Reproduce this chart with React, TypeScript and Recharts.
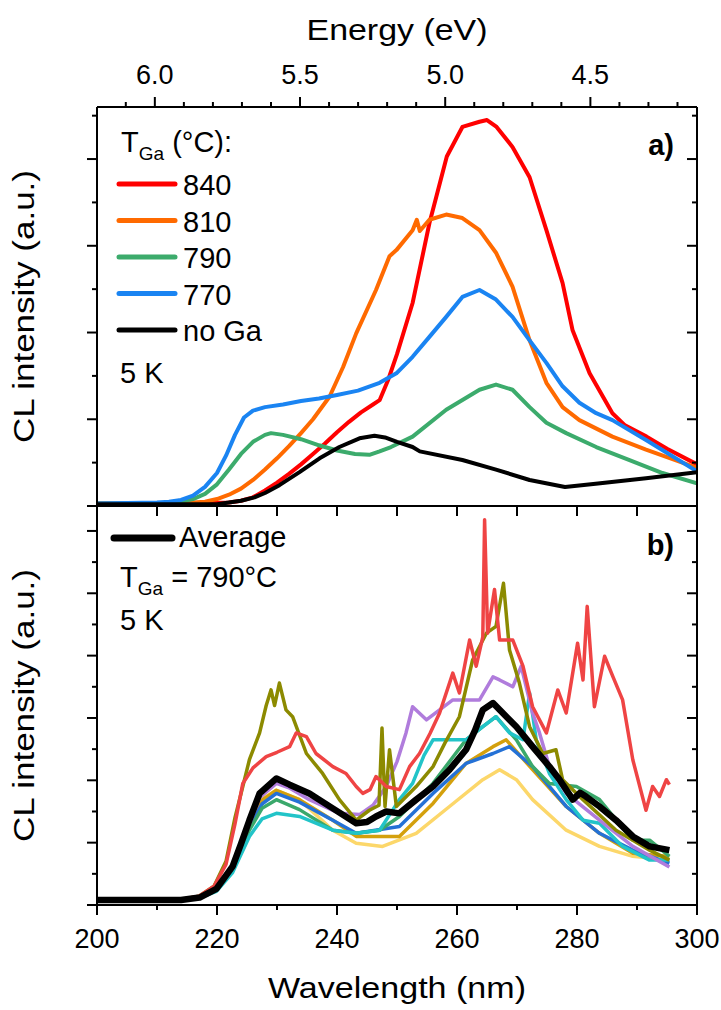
import React from "react";
import { LineChart, Line, XAxis, YAxis, Legend } from "recharts";

type Pt = [number, number];

// panel a: CL spectra for different Ga cell temperatures (wavelength nm, intensity a.u.)
const t840: Pt[] = [
  [200, 0.03], [215, 0.03], [222, 0.04], [224, 0.06], [226, 0.1], [228, 0.18], [230, 0.27], [232, 0.37],
  [234, 0.48], [236, 0.6], [238, 0.72], [240, 0.85], [242, 0.97], [244, 1.08], [246, 1.17], [247.1, 1.22],
  [248.5, 1.45], [250, 1.75], [252.6, 2.34], [255.4, 3.26], [258.3, 4.03], [260.9, 4.37], [263.75, 4.43],
  [265, 4.45], [266.6, 4.37], [269.25, 4.14], [272.1, 3.79], [274.9, 3.18], [277.6, 2.57], [279.25, 2.03],
  [282.1, 1.53], [285.9, 1.07], [288, 0.93], [291.6, 0.8], [295, 0.66], [300, 0.48],
];
const t810: Pt[] = [
  [200, 0.03], [214, 0.03], [216, 0.04], [218, 0.05], [220, 0.08], [222, 0.13], [224, 0.2], [226, 0.3],
  [228, 0.42], [230, 0.55], [232, 0.69], [234, 0.84], [236, 1.0], [238.75, 1.26], [241, 1.6], [243.2, 1.99],
  [246.5, 2.49], [248.75, 2.88], [249.9, 2.95], [252.6, 3.18], [253.3, 3.3], [253.8, 3.17], [255.4, 3.3],
  [258.2, 3.36], [260.9, 3.32], [263.75, 3.18], [266.5, 2.92], [269.25, 2.53], [272.1, 1.91], [274.9, 1.42],
  [277.6, 1.14], [280.4, 0.99], [285.9, 0.8], [291.5, 0.65], [300, 0.44],
];
const t790: Pt[] = [
  [200, 0.03], [212, 0.03], [214, 0.05], [216, 0.08], [218, 0.14], [220, 0.25], [222, 0.42], [224, 0.6],
  [226, 0.74], [228, 0.82], [229, 0.84], [231, 0.82], [234, 0.77], [237, 0.7], [240, 0.64], [243, 0.6],
  [245.4, 0.59], [247.1, 0.63], [249, 0.68], [252.6, 0.8], [258.2, 1.11], [263.75, 1.34], [266.5, 1.4],
  [269.25, 1.34], [272.1, 1.14], [274.9, 0.96], [278.2, 0.84], [283.2, 0.68], [288.75, 0.53], [294.25, 0.38],
  [300, 0.26],
];
const t770: Pt[] = [
  [200, 0.03], [210, 0.04], [212, 0.05], [214, 0.07], [216, 0.12], [218, 0.22], [220, 0.38], [221.5, 0.58],
  [223, 0.82], [224.5, 1.02], [226, 1.1], [228, 1.14], [231, 1.17], [234, 1.21], [237, 1.24], [240, 1.28],
  [243.5, 1.33], [247.1, 1.42], [249.9, 1.53], [252.6, 1.72], [255.4, 1.95], [258.2, 2.18], [260.9, 2.41],
  [263.75, 2.49], [266.5, 2.38], [269.25, 2.18], [272.1, 1.91], [274.9, 1.65], [277.6, 1.38], [280.4, 1.19],
  [283.2, 1.07], [285.9, 0.99], [291.5, 0.76], [300, 0.4],
];
const noGa: Pt[] = [
  [200, 0.02], [220, 0.02], [222, 0.04], [224, 0.06], [226.25, 0.1], [228, 0.15], [230.4, 0.24], [233.75, 0.39],
  [237.1, 0.55], [240.4, 0.68], [243.75, 0.78], [246.25, 0.81], [248, 0.79], [250, 0.74], [252.6, 0.68],
  [253.8, 0.63], [260.9, 0.53], [266.5, 0.42], [272.1, 0.3], [278, 0.22], [283.5, 0.26], [291.5, 0.32], [300, 0.39],
];

// panel b: single spectra at T_Ga = 790 °C and their average
const specRed: Pt[] = [
  [200, 0.08], [214, 0.09], [217, 0.14], [219.5, 0.3], [221.5, 0.65], [223, 1.3], [224.3, 1.95], [226, 2.2],
  [228.2, 2.38], [230, 2.45], [232.1, 2.54], [233.2, 2.76], [234.9, 2.7], [236.5, 2.43], [239.3, 2.22],
  [241.5, 2.11], [243.2, 1.9], [244.3, 1.79], [245.5, 1.85], [246.5, 2.06], [248.2, 1.9], [250.4, 1.85],
  [252.1, 2.22], [253.75, 2.43], [255.5, 2.75], [257.1, 3.08], [259.3, 3.72], [260.4, 3.4], [262.1, 4.25],
  [263.2, 3.83], [264.3, 4.3], [264.6, 6.18], [265.1, 4.36], [266.25, 5.06], [267.1, 4.25], [269.3, 4.25],
  [271, 3.83], [272.6, 3.18], [274.9, 2.76], [276.8, 3.45], [278.2, 3.08], [280.1, 4.2], [281, 3.61],
  [281.7, 4.79], [282.9, 3.18], [284.6, 3.99], [286, 3.66], [287.6, 3.29], [289.3, 2.33], [291.5, 1.52],
  [292.6, 1.9], [293.75, 1.74], [294.9, 2.01], [295.4, 1.93],
];
const specOlive: Pt[] = [
  [200, 0.08], [214, 0.09], [217, 0.14], [219.5, 0.3], [221.5, 0.7], [223, 1.4], [224.3, 1.9], [225.4, 2.33],
  [227.1, 2.76], [228.2, 3.2], [229, 3.45], [229.6, 3.2], [230.4, 3.56], [231.5, 3.13], [232.6, 3.02],
  [234.9, 2.43], [237.6, 2.11], [240.4, 1.69], [243.2, 1.36], [245.4, 1.52], [247, 1.6], [247.5, 2.84],
  [248, 1.58], [248.75, 2.49], [249.9, 1.58], [253.2, 1.9], [256, 2.22], [258, 2.6], [260.4, 3.02],
  [262.6, 3.93], [264.9, 4.36], [266.5, 4.47], [267.75, 5.16], [268.75, 4.09], [270.4, 3.56], [272.1, 2.86],
  [274.3, 2.43], [276.5, 2.49], [277.6, 2.01], [281, 1.69], [286.5, 1.2], [292.1, 0.88], [295.4, 0.72],
];
const specPurple: Pt[] = [
  [200, 0.08], [214, 0.09], [217, 0.12], [219.9, 0.25], [222.6, 0.6], [225.4, 1.3], [227.1, 1.72],
  [229.9, 1.95], [232, 1.88], [235.4, 1.69], [240.4, 1.47], [243.75, 1.45], [246, 1.6], [248.2, 1.9],
  [250, 2.3], [251.5, 2.76], [252.6, 3.18], [254.9, 2.97], [257.1, 3.13], [259.3, 3.29], [261.5, 3.29],
  [263.75, 3.29], [266, 3.66], [267.1, 3.61], [269.3, 3.5], [270.7, 3.83], [272.6, 3.08], [273.75, 2.76],
  [275.4, 2.22], [278.2, 1.79], [283.75, 1.36], [289.3, 0.94], [295.4, 0.61],
];
const specCyan: Pt[] = [
  [200, 0.08], [214, 0.09], [217, 0.11], [219.9, 0.22], [222.6, 0.52], [225.4, 1.1], [227.5, 1.38],
  [229.9, 1.47], [233.75, 1.42], [239.3, 1.2], [243.2, 1.15], [247.1, 1.2], [250.4, 1.69], [252.6, 1.95],
  [254.5, 2.4], [256, 2.65], [258.75, 2.65], [261.5, 2.65], [264.3, 2.86], [266.5, 3.02], [268.75, 2.76],
  [271, 2.65], [272.1, 3.4], [273.2, 2.65], [275.4, 2.11], [278.2, 1.69], [281, 1.36], [283.75, 1.31],
  [287.6, 0.94], [292.1, 0.72], [295.4, 0.72],
];
const specGreen: Pt[] = [
  [200, 0.08], [214, 0.09], [217, 0.11], [219.9, 0.23], [222.6, 0.55], [225.4, 1.2], [227.5, 1.55],
  [229.9, 1.69], [233.75, 1.53], [239.3, 1.2], [243.2, 1.15], [247.1, 1.2], [250.4, 1.42], [256, 1.95],
  [261.5, 2.65], [264.3, 2.86], [266.5, 3.02], [269.9, 2.65], [272.6, 2.22], [275.4, 1.95], [279.9, 1.9],
  [283.75, 1.69], [289.3, 1.04], [292.1, 1.04], [295.4, 0.78],
];
const specBlue: Pt[] = [
  [200, 0.08], [214, 0.09], [217, 0.12], [219.9, 0.24], [222.6, 0.58], [225.4, 1.25], [227.5, 1.62],
  [229.9, 1.79], [233.75, 1.65], [239.3, 1.36], [243.2, 1.15], [250.4, 1.26], [256, 1.79], [261.5, 2.27],
  [266, 2.43], [268.75, 2.54], [272.6, 2.22], [278.2, 1.58], [283.75, 1.15], [289.3, 0.88], [295.4, 0.67],
];
const specGold: Pt[] = [
  [200, 0.08], [214, 0.09], [217, 0.12], [219.9, 0.25], [222.6, 0.6], [225.4, 1.3], [227.5, 1.68],
  [229.9, 1.84], [233.75, 1.69], [239.3, 1.36], [243.2, 1.1], [250.4, 1.1], [256, 1.63], [261.5, 2.27],
  [266, 2.54], [268.2, 2.65], [272.6, 2.17], [278.2, 1.58], [283.75, 1.15], [289.3, 0.83], [295.4, 0.78],
];
const specYellow: Pt[] = [
  [200, 0.08], [214, 0.09], [217, 0.12], [219.9, 0.25], [222.6, 0.6], [225.4, 1.3], [227.5, 1.7],
  [229.9, 1.84], [233.75, 1.69], [239.3, 1.2], [243.2, 0.99], [247.6, 0.94], [253.2, 1.15], [258.75, 1.58],
  [264.3, 2.01], [267.1, 2.17], [269.9, 2.01], [272.6, 1.69], [278.2, 1.2], [283.75, 0.94], [289.3, 0.78],
  [295.4, 0.72],
];
const average: Pt[] = [
  [200, 0.08], [214, 0.08], [217.1, 0.12], [219.9, 0.26], [222.6, 0.62], [224, 0.98], [225.4, 1.36],
  [227.1, 1.79], [229.9, 2.03], [232.1, 1.93], [235.4, 1.79], [239.3, 1.55], [243.2, 1.31], [245, 1.33],
  [246.5, 1.42], [248.2, 1.5], [250.4, 1.47], [253.2, 1.69], [256, 1.9], [258.75, 2.17], [261.5, 2.49],
  [263, 2.8], [264.3, 3.13], [266, 3.24], [267.1, 3.13], [269.9, 2.86], [272.6, 2.54], [275.4, 2.22],
  [277.1, 2.01], [279.3, 1.69], [280.5, 1.8], [281.5, 1.74], [283.75, 1.58], [286.5, 1.36], [289.3, 1.1],
  [292.1, 0.94], [295.4, 0.88],
];

const seriesA = [
  { name: "840", color: "#ff0000", data: t840 },
  { name: "810", color: "#ff6a00", data: t810 },
  { name: "790", color: "#3cab6c", data: t790 },
  { name: "770", color: "#1a84f2", data: t770 },
  { name: "no Ga", color: "#000000", data: noGa },
];
const seriesB = [
  { name: "s1", color: "#fcd76a", data: specYellow },
  { name: "s2", color: "#d4a00c", data: specGold },
  { name: "s3", color: "#2471d6", data: specBlue },
  { name: "s4", color: "#3aa86b", data: specGreen },
  { name: "s5", color: "#22c4c8", data: specCyan },
  { name: "s6", color: "#b07cdc", data: specPurple },
  { name: "s7", color: "#8c8a00", data: specOlive },
  { name: "s8", color: "#ef4444", data: specRed },
];

const wavelengthTicks = [200, 210, 220, 230, 240, 250, 260, 270, 280, 290, 300];
const dividerTicks = [210, 220, 230, 240, 250, 260, 270, 280, 290];
const energyTicks = [6.1, 6.0, 5.9, 5.8, 5.7, 5.6, 5.5, 5.4, 5.3, 5.2, 5.1, 5.0, 4.9, 4.8, 4.7, 4.6, 4.5, 4.4, 4.3, 4.2];
const yTicksA = [0, 0.5, 1, 1.5, 2, 2.5, 3, 3.5, 4, 4.5];
const yTicksB = [0, 0.5, 1, 1.5, 2, 2.5, 3, 3.5, 4, 4.5, 5, 5.5, 6];

// the energy axis is linked linearly to the wavelength range (hc/λ at both ends)
const NM_MIN = 200;
const NM_MAX = 300;
const E_LEFT = 1239.84 / NM_MIN;
const E_RIGHT = 1239.84 / NM_MAX;
const eToNm = (e: number) => NM_MIN + ((E_LEFT - e) / (E_LEFT - E_RIGHT)) * (NM_MAX - NM_MIN);
const nmToE = (nm: number) => E_LEFT - ((nm - NM_MIN) / (NM_MAX - NM_MIN)) * (E_LEFT - E_RIGHT);

const FONT = "'Liberation Sans', Arial, Helvetica, sans-serif";
const AXIS = { stroke: "#000", strokeWidth: 2 };

const toPoints = (pts: Pt[]) => pts.map(([x, y]) => ({ x, y }));

function EnergyTick({ x, y, payload }: any) {
  const e = nmToE(payload.value as number);
  const major = Math.round(e * 10) % 5 === 0;
  return (
    <g>
      <line x1={x} x2={x} y1={y} y2={y - (major ? 10 : 5)} stroke="#000" strokeWidth={2} />
      {major && (
        <text x={x} y={y - 23} textAnchor="middle" fontSize={27} fontFamily={FONT} fill="#000">
          {e.toFixed(1)}
        </text>
      )}
    </g>
  );
}

function WavelengthTick({ x, y, payload }: any) {
  const v = payload.value as number;
  const major = v % 20 === 0;
  return (
    <g>
      <line x1={x} x2={x} y1={y} y2={y + (major ? 10 : 5)} stroke="#000" strokeWidth={2} />
      {major && (
        <text x={x} y={y + 43} textAnchor="middle" fontSize={27} fontFamily={FONT} fill="#000">
          {v}
        </text>
      )}
    </g>
  );
}

function DividerTick({ x, y }: any) {
  return <line x1={x} x2={x} y1={y} y2={y + 10} stroke="#000" strokeWidth={2} />;
}

function LeftTick({ x, y, payload }: any) {
  const major = Number.isInteger(payload.value);
  return <line x1={x} x2={x - (major ? 10 : 5)} y1={y} y2={y} stroke="#000" strokeWidth={2} />;
}

function RightTick({ x, y, payload }: any) {
  const major = Number.isInteger(payload.value);
  return <line x1={x} x2={x - (major ? 10 : 5)} y1={y} y2={y} stroke="#000" strokeWidth={2} />;
}

function yTitle(props: any) {
  const vb = props.viewBox ?? { x: 0, y: 0, width: 97, height: 400 };
  const cx = vb.x + 34;
  const cy = vb.y + vb.height / 2;
  return (
    <text
      x={cx}
      y={cy}
      transform={`rotate(-90 ${cx} ${cy})`}
      textAnchor="middle"
      fontSize={30}
      fontFamily={FONT}
      fill="#000"
      textLength={273}
      lengthAdjust="spacingAndGlyphs"
    >
      CL intensity (a.u.)
    </text>
  );
}

function energyTitle(props: any) {
  const vb = props.viewBox ?? { x: 97, y: 0, width: 600, height: 107 };
  return (
    <text
      x={vb.x + vb.width / 2}
      y={vb.y + 40}
      textAnchor="middle"
      fontSize={30}
      fontFamily={FONT}
      fill="#000"
      textLength={181}
      lengthAdjust="spacingAndGlyphs"
    >
      Energy (eV)
    </text>
  );
}

function wavelengthTitle(props: any) {
  const vb = props.viewBox ?? { x: 97, y: 405, width: 600, height: 105 };
  return (
    <text
      x={vb.x + vb.width / 2}
      y={vb.y + 93}
      textAnchor="middle"
      fontSize={30}
      fontFamily={FONT}
      fill="#000"
      textLength={258}
      lengthAdjust="spacingAndGlyphs"
    >
      Wavelength (nm)
    </text>
  );
}

const LEGEND_TEXT = { fontSize: 29, fontFamily: FONT, fill: "#000" };

function LegendA({ payload }: any) {
  const items = seriesA
    .map((s) => (payload ?? []).find((p: any) => p.value === s.name))
    .filter(Boolean);
  return (
    <svg width={721} height={420} style={{ display: "block", overflow: "visible" }}>
      <text x={121} y={152} {...LEGEND_TEXT}>
        T<tspan fontSize={19} dy={8}>Ga</tspan>
        <tspan dy={-8}> (°C):</tspan>
      </text>
      {items.map((p: any, i: number) => (
        <g key={p.value}>
          <line x1={119} x2={175} y1={184 + i * 36.5} y2={184 + i * 36.5} stroke={p.color} strokeWidth={5} strokeLinecap="round" />
          <text x={183} y={195 + i * 36.5} {...LEGEND_TEXT}>
            {p.value}
          </text>
        </g>
      ))}
      <text x={120} y={383} {...LEGEND_TEXT}>
        5 K
      </text>
      <text x={674} y={155} textAnchor="end" fontWeight="bold" {...LEGEND_TEXT}>
        a)
      </text>
    </svg>
  );
}

function LegendB({ payload }: any) {
  const items = (payload ?? []).filter((p: any) => p.value === "Average");
  return (
    <svg width={721} height={140} style={{ display: "block", overflow: "visible" }}>
      {items.map((p: any) => (
        <g key={p.value}>
          <line x1={114} x2={172} y1={38} y2={38} stroke={p.color} strokeWidth={7} strokeLinecap="round" />
          <text x={179} y={47} {...LEGEND_TEXT}>
            {p.value}
          </text>
        </g>
      ))}
      <text x={120} y={87} {...LEGEND_TEXT}>
        T<tspan fontSize={19} dy={8}>Ga</tspan>
        <tspan dy={-8}> = 790°C</tspan>
      </text>
      <text x={120} y={130} {...LEGEND_TEXT}>
        5 K
      </text>
      <text x={674} y={55} textAnchor="end" fontWeight="bold" {...LEGEND_TEXT}>
        b)
      </text>
    </svg>
  );
}

export default function App() {
  return (
    <div style={{ position: "absolute", left: 0, top: 0, width: 721, height: 1010, background: "#fff" }}>
      <div style={{ position: "absolute", left: 0, top: 0 }}>
        <LineChart width={721} height={512} margin={{ top: 0, right: 0, bottom: 0, left: 0 }}>
          <XAxis
            xAxisId="top"
            orientation="top"
            type="number"
            dataKey="x"
            domain={[NM_MIN, NM_MAX]}
            allowDataOverflow
            ticks={energyTicks.map(eToNm)}
            interval={0}
            height={107}
            tickSize={0}
            tickMargin={0}
            tickLine={false}
            axisLine={AXIS}
            tick={<EnergyTick />}
            label={energyTitle}
          />
          <XAxis
            type="number"
            dataKey="x"
            domain={[NM_MIN, NM_MAX]}
            allowDataOverflow
            ticks={wavelengthTicks}
            height={6}
            tick={false}
            tickLine={false}
            axisLine={AXIS}
          />
          <YAxis
            type="number"
            dataKey="y"
            domain={[0, 4.6]}
            allowDataOverflow
            ticks={yTicksA}
            interval={0}
            width={97}
            tickSize={0}
            tickMargin={0}
            tickLine={false}
            axisLine={AXIS}
            tick={<LeftTick />}
            label={yTitle}
          />
          <YAxis
            yAxisId="right"
            orientation="right"
            type="number"
            domain={[0, 4.6]}
            allowDataOverflow
            ticks={yTicksA}
            interval={0}
            width={24}
            tickSize={0}
            tickMargin={0}
            tickLine={false}
            axisLine={AXIS}
            tick={<RightTick />}
          />
          <Legend
            layout="horizontal"
            verticalAlign="middle"
            align="center"
            content={<LegendA />}
            wrapperStyle={{ left: 0, top: 0, width: 721, height: 420, margin: 0 }}
          />
          {/* carries the top (energy) axis, drawn invisibly */}
          <Line
            xAxisId="top"
            name="top-axis"
            data={toPoints(t840)}
            dataKey="y"
            stroke="none"
            dot={false}
            activeDot={false}
            legendType="none"
            isAnimationActive={false}
          />
          {seriesA.map((s) => (
            <Line
              key={s.name}
              name={s.name}
              data={toPoints(s.data)}
              dataKey="y"
              type="linear"
              stroke={s.color}
              strokeWidth={4}
              strokeLinejoin="round"
              dot={false}
              activeDot={false}
              isAnimationActive={false}
            />
          ))}
        </LineChart>
      </div>

      <div style={{ position: "absolute", left: 0, top: 500 }}>
        <LineChart width={721} height={510} margin={{ top: 0, right: 0, bottom: 0, left: 0 }}>
          <XAxis
            xAxisId="top"
            orientation="top"
            type="number"
            dataKey="x"
            domain={[NM_MIN, NM_MAX]}
            allowDataOverflow
            ticks={dividerTicks}
            interval={0}
            height={6}
            tickSize={0}
            tickMargin={0}
            tickLine={false}
            axisLine={AXIS}
            tick={<DividerTick />}
          />
          <XAxis
            type="number"
            dataKey="x"
            domain={[NM_MIN, NM_MAX]}
            allowDataOverflow
            ticks={wavelengthTicks}
            interval={0}
            height={105}
            tickSize={0}
            tickMargin={0}
            tickLine={false}
            axisLine={AXIS}
            tick={<WavelengthTick />}
            label={wavelengthTitle}
          />
          <YAxis
            type="number"
            dataKey="y"
            domain={[0, 6.4]}
            allowDataOverflow
            ticks={yTicksB}
            interval={0}
            width={97}
            tickSize={0}
            tickMargin={0}
            tickLine={false}
            axisLine={AXIS}
            tick={<LeftTick />}
            label={yTitle}
          />
          <YAxis
            yAxisId="right"
            orientation="right"
            type="number"
            domain={[0, 6.4]}
            allowDataOverflow
            ticks={yTicksB}
            interval={0}
            width={24}
            tickSize={0}
            tickMargin={0}
            tickLine={false}
            axisLine={AXIS}
            tick={<RightTick />}
          />
          <Legend
            layout="horizontal"
            verticalAlign="middle"
            align="center"
            content={<LegendB />}
            wrapperStyle={{ left: 0, top: 0, width: 721, height: 140, margin: 0 }}
          />
          {/* carries the divider axis between the panels, drawn invisibly */}
          <Line
            xAxisId="top"
            name="divider-axis"
            data={toPoints(average)}
            dataKey="y"
            stroke="none"
            dot={false}
            activeDot={false}
            legendType="none"
            isAnimationActive={false}
          />
          {seriesB.map((s) => (
            <Line
              key={s.name}
              name={s.name}
              data={toPoints(s.data)}
              dataKey="y"
              type="linear"
              stroke={s.color}
              strokeWidth={3.5}
              strokeLinejoin="round"
              dot={false}
              activeDot={false}
              legendType="none"
              isAnimationActive={false}
            />
          ))}
          <Line
            name="Average"
            data={toPoints(average)}
            dataKey="y"
            type="linear"
            stroke="#000"
            strokeWidth={6.5}
            strokeLinejoin="round"
            dot={false}
            activeDot={false}
            isAnimationActive={false}
          />
        </LineChart>
      </div>
    </div>
  );
}
